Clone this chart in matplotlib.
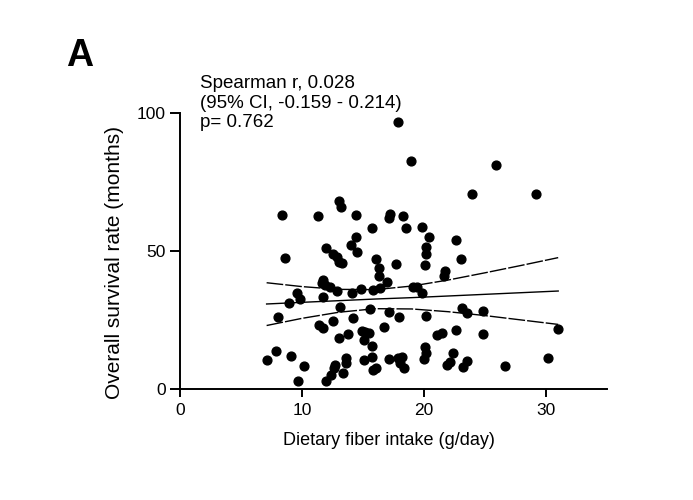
import matplotlib.pyplot as plt

plt.rcParams['font.family'] = ['Liberation Sans', 'DejaVu Sans']

# Dietary fiber intake (g/day) vs overall survival (months)
fiber = [17.9, 18.9, 25.9, 23.9, 29.2, 8.4, 11.3, 13.0, 13.2, 14.4,
         17.2, 17.1, 18.3, 15.7, 18.5, 19.8, 14.4, 20.4, 22.6, 14.0,
         14.5, 20.2, 20.2, 12.0, 12.5, 12.9, 13.0, 13.3, 8.6, 16.1,
         23.0, 17.7, 20.1, 16.3, 16.3, 21.7, 21.6, 11.7, 11.6, 11.9,
         12.3, 11.7, 12.9, 14.1, 14.8, 15.8, 16.4, 17.0, 19.1, 19.4,
         19.8, 9.6, 9.8, 8.9, 8.0, 13.1, 15.6, 17.1, 17.95, 20.2,
         23.1, 23.5, 24.8, 12.5, 14.2, 11.4, 11.7, 16.7, 14.9, 15.2,
         15.5, 13.8, 13.0, 15.1, 15.7, 21.1, 21.5, 22.6, 24.8, 31.0,
         20.1, 20.2, 20.0, 22.4, 7.9, 7.1, 9.1, 10.2, 9.7, 13.6,
         13.6, 12.7, 12.6, 12.4, 12.0, 13.4, 15.1, 15.7, 16.1, 15.8,
         17.1, 17.9, 18.2, 18.0, 18.4, 21.9, 22.1, 23.5, 23.2, 26.6,
         30.2]
survival = [96.7, 82.6, 81.2, 70.7, 70.7, 63.0, 62.7, 68.1, 65.9, 63.0,
            63.4, 62.0, 62.7, 58.3, 58.3, 58.7, 55.1, 55.1, 54.0, 52.2,
            49.6, 51.4, 48.9, 51.1, 48.9, 47.8, 46.0, 45.7, 47.5, 47.1,
            47.1, 45.3, 44.9, 43.8, 40.9, 42.8, 40.9, 39.5, 38.4, 37.7,
            37.0, 33.3, 35.5, 34.8, 36.2, 35.9, 36.6, 38.8, 37.0, 37.0,
            34.8, 34.8, 32.6, 31.2, 26.1, 29.7, 29.0, 27.9, 26.1, 26.4,
            29.3, 27.5, 28.3, 24.6, 25.7, 23.2, 22.1, 22.5, 21.0, 20.7,
            20.3, 19.9, 18.5, 17.8, 15.6, 19.6, 20.3, 21.4, 19.9, 21.7,
            15.2, 13.0, 10.9, 13.0, 13.8, 10.5, 12.0, 8.3, 2.9, 11.2,
            9.4, 8.7, 7.6, 5.1, 2.9, 5.8, 10.5, 11.6, 7.6, 6.9,
            10.9, 11.2, 11.6, 9.4, 7.6, 8.7, 9.8, 10.1, 8.0, 8.3,
            11.2]

# regression line and 95% confidence band
fit_x = [7.1, 10, 13, 16, 19, 22, 25, 28, 31]
fit_mid = [30.8, 31.4, 32.0, 32.6, 33.1, 33.7, 34.3, 34.9, 35.5]
fit_upper = [38.5, 37.1, 36.1, 36.0, 37.3, 39.5, 42.1, 44.8, 47.6]
fit_lower = [23.0, 25.6, 27.8, 29.1, 29.0, 28.0, 26.6, 25.0, 23.4]

fig = plt.figure(figsize=(6.93, 5.0), dpi=100)
ax = fig.add_axes([180 / 693, 1 - 389 / 500, 427 / 693, 276 / 500])

ax.scatter(fiber, survival, s=40, color='black', zorder=3, clip_on=False)
ax.plot(fit_x, fit_mid, color='black', lw=1.0)
ax.plot(fit_x, fit_upper, color='black', lw=1.0, dashes=(12, 1.5))
ax.plot(fit_x, fit_lower, color='black', lw=1.0, dashes=(12, 1.5))

ax.set_xlim(0, 35)
ax.set_ylim(0, 100)
ax.set_xticks([0, 10, 20, 30])
ax.set_yticks([0, 50, 100])
for side in ['top', 'right']:
    ax.spines[side].set_visible(False)
for side in ['left', 'bottom']:
    ax.spines[side].set_linewidth(1.4)
ax.tick_params(axis='x', direction='out', length=6, width=1.4, labelsize=12.5, pad=4)
ax.tick_params(axis='y', direction='out', length=7, width=1.4, labelsize=12.5, pad=3)

ax.set_xlabel('Dietary fiber intake (g/day)', fontsize=13)
ax.set_ylabel('Overall survival rate (months)', fontsize=15)
ax.xaxis.set_label_coords(0.49, -0.155)
ax.yaxis.set_label_coords(-0.13, 0.46)

fig.text(200 / 693, 1 - 75 / 500,
         'Spearman r, 0.028\n(95% CI, -0.159 - 0.214)\np= 0.762',
         fontsize=13.5, va='top', ha='left', linespacing=1.2)
fig.text(66 / 693, 1 - 66 / 500, 'A', fontsize=27, fontweight='bold',
         va='baseline', ha='left')

fig.savefig('out.png', dpi=100)
